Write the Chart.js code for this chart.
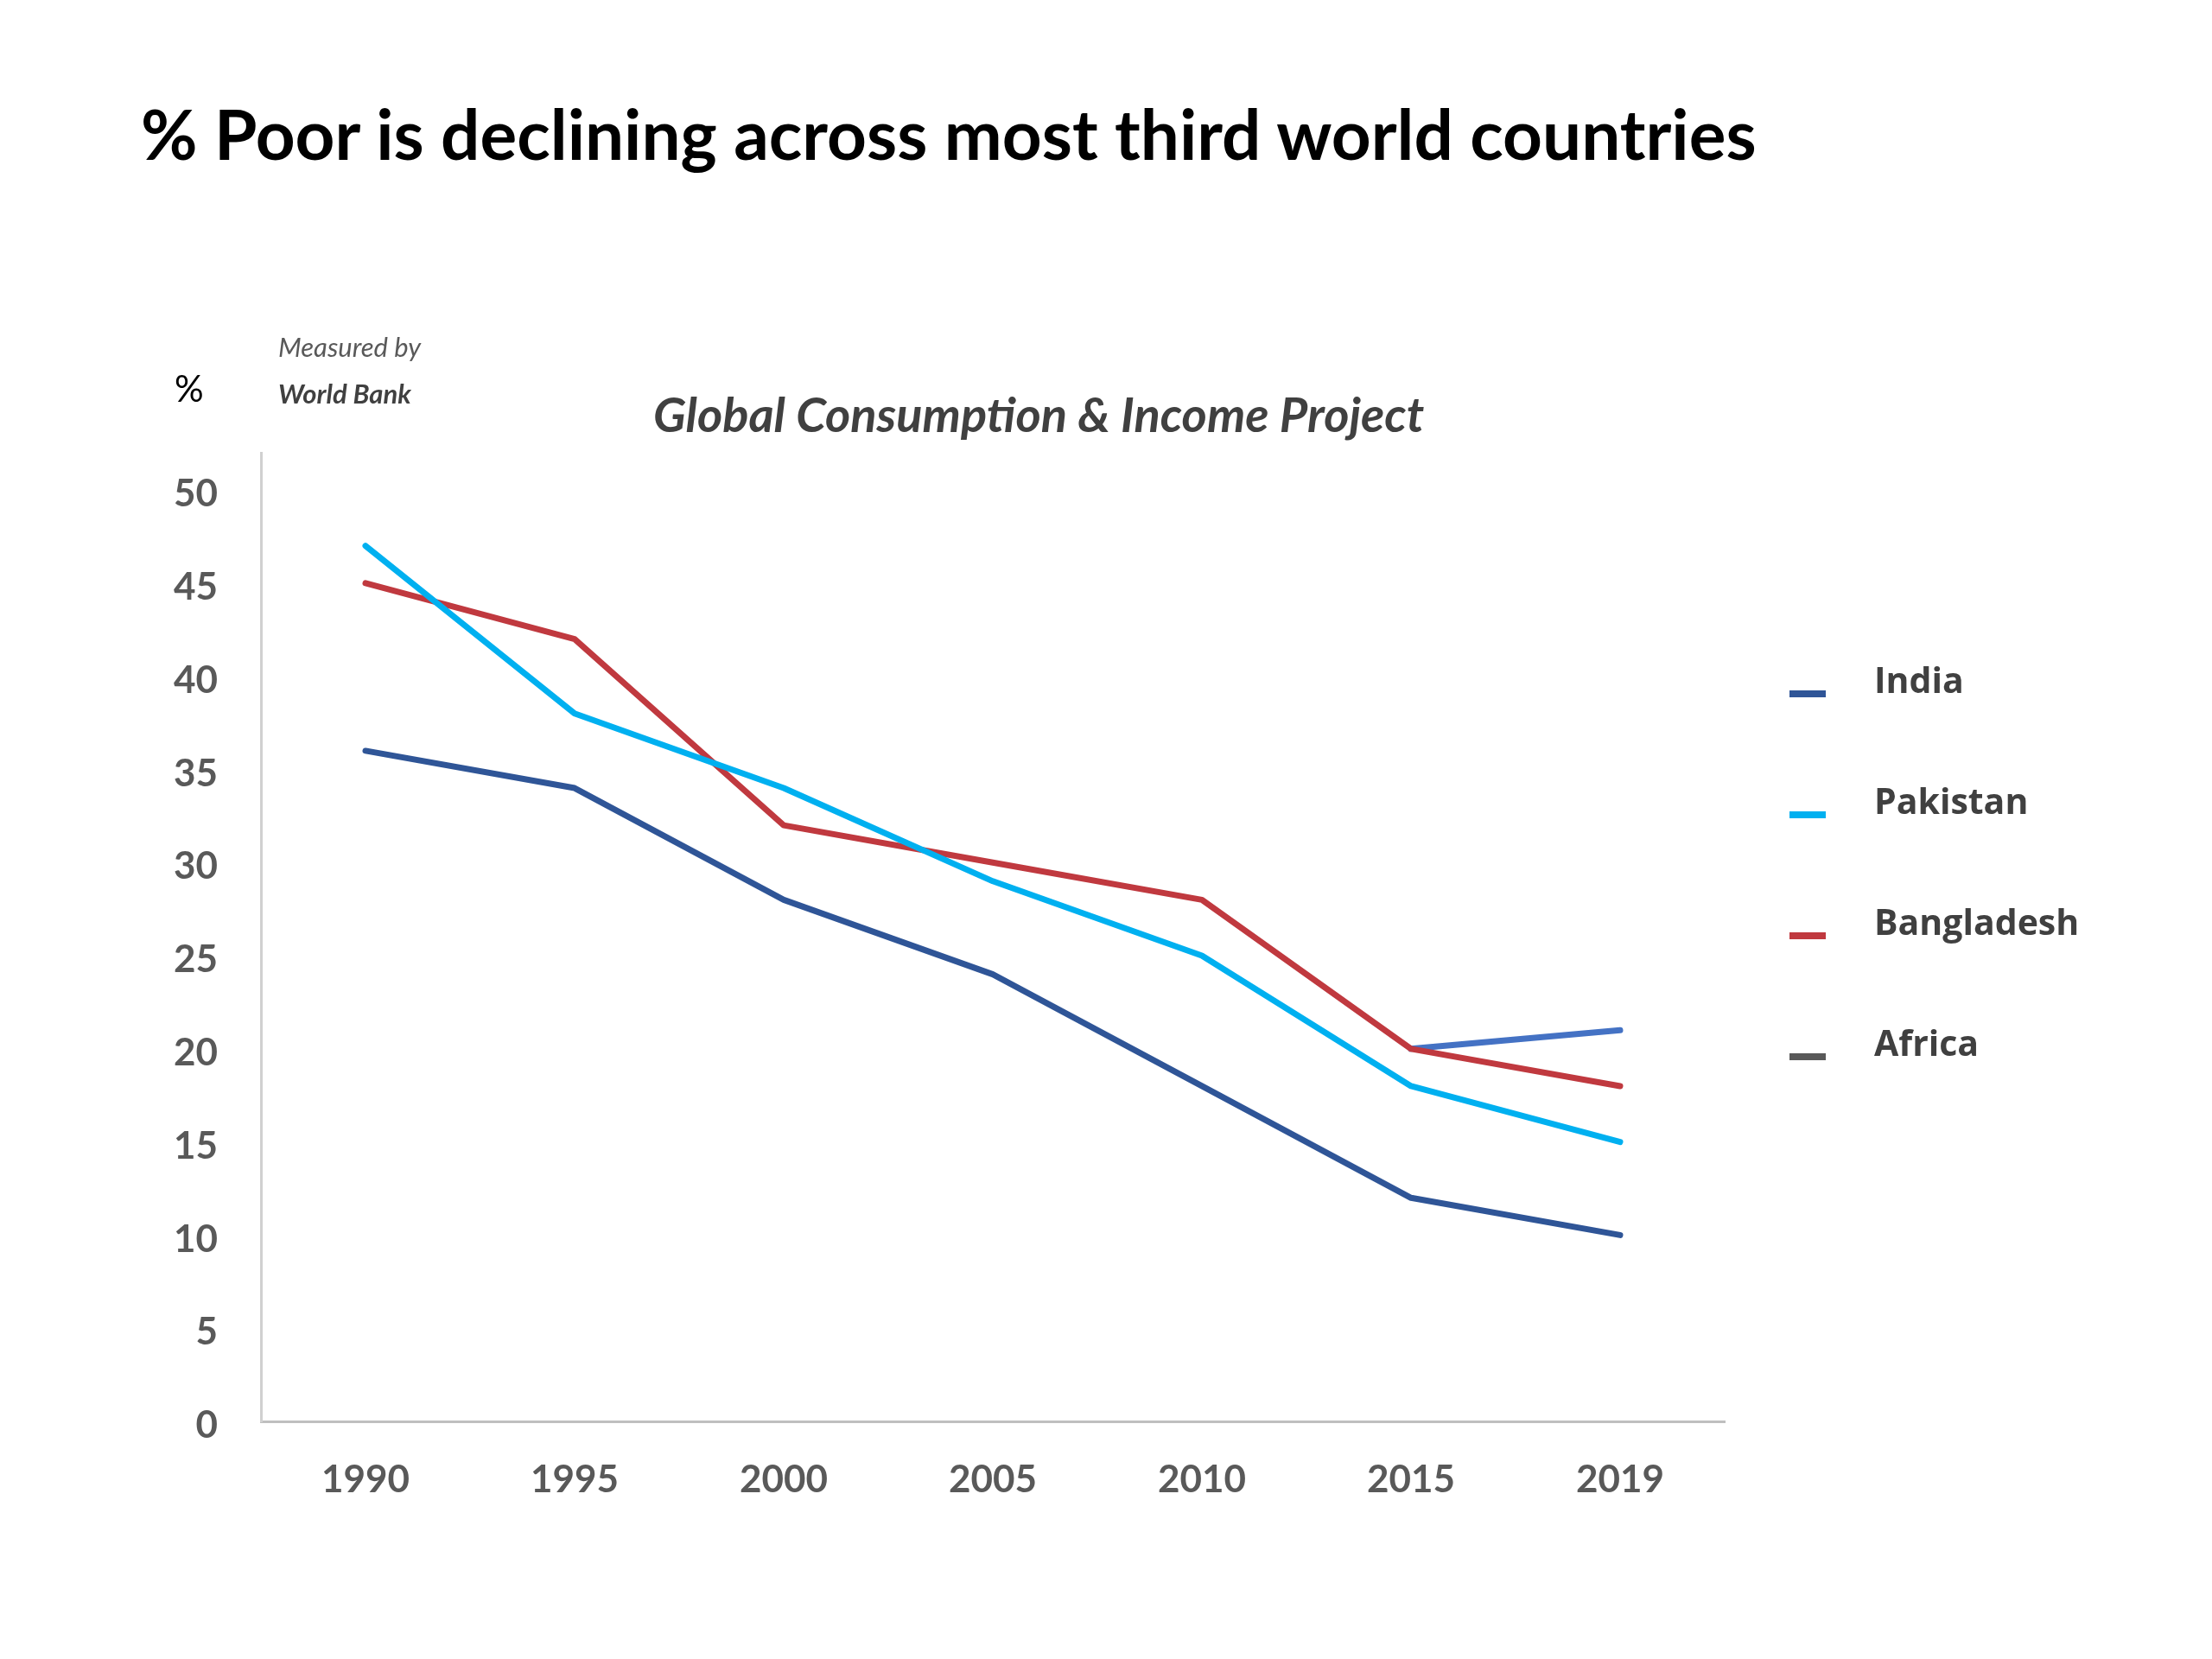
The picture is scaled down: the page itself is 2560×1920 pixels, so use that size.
<!DOCTYPE html>
<html>
<head>
<meta charset="utf-8">
<script src="https://cdn.jsdelivr.net/npm/chart.js@4.4.1/dist/chart.umd.min.js"></script>
<style>
  html, body { margin: 0; padding: 0; background: #fff; }
  #wrap { position: relative; width: 2560px; height: 1920px; overflow: hidden; }
  #chart { position: absolute; left: 0; top: 0; }
  .txt { position: absolute; white-space: nowrap; line-height: 1; font-family: Lato, "Open Sans", sans-serif; }
  #title { left: 163px; top: 114px; font-size: 80px; font-weight: 700; color: #000; }
  #subtitle { left: 756px; top: 451px; font-size: 56px; font-weight: 700; font-style: italic; color: #404040; }
  #unit { left: 202px; top: 428px; font-size: 42px; color: #000; }
  #note1 { left: 322px; top: 386px; font-size: 31px; font-style: italic; color: #595959; }
  #note2 { left: 322px; top: 440px; font-size: 31px; font-weight: 700; font-style: italic; color: #404040; }
  #legend { position: absolute; left: 2071px; top: 761px; }
  .item { position: relative; height: 140px; }
  .swatch { position: absolute; left: 0; top: 38px; width: 42px; height: 8px; }
  .label { position: absolute; left: 98px; top: 0; font-family: "Open Sans", Lato, sans-serif; font-size: 41px; font-weight: 700; color: #404040; line-height: 50px; white-space: nowrap; }
</style>
</head>
<body>
<div id="wrap">
  <canvas id="chart" width="2560" height="1920"></canvas>
  <div class="txt" id="title">% Poor is declining across most third world countries</div>
  <div class="txt" id="unit">%</div>
  <div class="txt" id="note1">Measured by</div>
  <div class="txt" id="note2">World Bank</div>
  <div class="txt" id="subtitle">Global Consumption &amp; Income Project</div>
  <div id="legend"></div>
</div>
<script>
const years = ["1990", "1995", "2000", "2005", "2010", "2015", "2019"];
const india = [36, 34, 28, 24, 18, 12, 10];
const pakistan = [47, 38, 34, 29, 25, 18, 15];
const bangladesh = [45, 42, 32, 30, 28, 20, 18];
const africa = [null, null, null, null, null, null, null];
// stray segment with no legend entry
const otherSeries = [null, null, null, null, null, 20, 21];

const seriesNames = ["India", "Pakistan", "Bangladesh", "Africa"];
const seriesColors = ["#2F5597", "#00B0F0", "#C0393F", "#595959"];
const otherColor = "#4472C4";

const yTicks = [0, 5, 10, 15, 20, 25, 30, 35, 40, 45, 50];

const lineStyle = {
  borderWidth: 7,
  pointRadius: 0,
  pointHoverRadius: 0,
  borderCapStyle: "round",
  borderJoinStyle: "round",
  tension: 0,
  spanGaps: false
};

const datasets = [india, pakistan, bangladesh, africa].map((values, i) => ({
  label: seriesNames[i],
  data: values,
  borderColor: seriesColors[i],
  backgroundColor: seriesColors[i],
  order: 0,
  ...lineStyle
}));
datasets.push({
  label: "",
  data: otherSeries,
  borderColor: otherColor,
  backgroundColor: otherColor,
  order: 1,
  ...lineStyle
});

const tickFont = { family: "Lato, 'Open Sans', sans-serif", size: 44, weight: "bold" };

const ctx = document.getElementById("chart").getContext("2d");
new Chart(ctx, {
  type: "line",
  data: { labels: years, datasets: datasets },
  options: {
    responsive: false,
    animation: false,
    devicePixelRatio: 1,
    layout: { padding: { left: 98, right: 564, top: 524, bottom: 0 } },
    plugins: {
      legend: { display: false },
      tooltip: { enabled: false },
      title: { display: false }
    },
    scales: {
      x: {
        offset: true,
        grid: { display: false, drawTicks: false },
        border: { display: true, color: "#BFBFBF", width: 3 },
        ticks: { color: "#595959", font: tickFont, padding: 41, maxRotation: 0 },
        afterFit: (scale) => { scale.height = 275; }
      },
      y: {
        min: 0,
        max: 52,
        grid: { display: false, drawTicks: false },
        border: { display: true, color: "#D0D0D0", width: 3 },
        ticks: { color: "#595959", font: tickFont, padding: 50, stepSize: 5, labelOffset: 5 },
        afterBuildTicks: (scale) => {
          scale.ticks = yTicks.map((v) => ({ value: v }));
        },
        afterFit: (scale) => { scale.width = 204; }
      }
    }
  }
});

// legend built from the same names and colours
const legendEl = document.getElementById("legend");
seriesNames.forEach((name, i) => {
  const item = document.createElement("div");
  item.className = "item";
  const sw = document.createElement("div");
  sw.className = "swatch";
  sw.style.background = seriesColors[i];
  const lb = document.createElement("div");
  lb.className = "label";
  lb.textContent = name;
  item.appendChild(sw);
  item.appendChild(lb);
  legendEl.appendChild(item);
});
</script>
</body>
</html>
